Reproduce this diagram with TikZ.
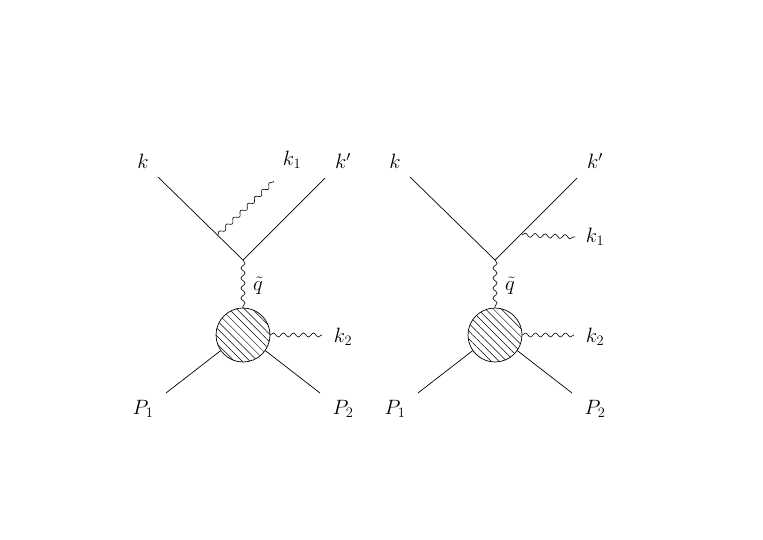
\documentclass[tikz,border=0pt]{standalone}
\usetikzlibrary{decorations.pathmorphing,patterns.meta}
\begin{document}
\begin{tikzpicture}[x=1pt,y=-1pt,
  fermion/.style={line width=0.7pt},
  photon/.style={line width=0.6pt,decorate,decoration={snake,amplitude=2pt,segment length=10pt}},
  blob/.style={circle,draw,line width=0.7pt,minimum size=54pt,inner sep=0pt,
    pattern={Lines[angle=-45,distance=5.5pt,line width=0.5pt]}},
  lab/.style={font=\fontsize{21}{24}\selectfont}]
\useasboundingbox (0,0) rectangle (763,539);
\foreach \d/\n in {0/L,252/R}{
  \coordinate (v\n) at (243+\d,260);
  \coordinate (ka\n) at (158+\d,177);
  \coordinate (kb\n) at (325+\d,178);
  \node[blob] (b\n) at (243+\d,335) {};
  \coordinate (p1\n) at (166+\d,393);
  \coordinate (p2\n) at (320+\d,393);
  \coordinate (k2\n) at (322+\d,335);
  \draw[fermion] (ka\n) -- (v\n) -- (kb\n);
  \draw[photon] (v\n) -- (b\n.north);
  \draw[fermion] (p1\n) -- (b\n.-145);
  \draw[fermion] (p2\n) -- (b\n.-35);
  \draw[photon] (b\n.east) -- (k2\n);
  \node[lab] (lk\n) at (143+\d,161) {$k$};
  \node[lab] (lkp\n) at (343+\d,161) {$k'$};
  \node[lab] (lq\n) at (258+\d,286) {$\tilde q$};
  \node[lab] (lk2\n) at (343+\d,337) {$k_2$};
  \node[lab] (lp1\n) at (143+\d,409) {$P_1$};
  \node[lab] (lp2\n) at (343+\d,409) {$P_2$};
}
\coordinate (aL) at (218,235);
\coordinate (eL) at (274,181);
\draw[photon] (aL) -- (eL);
\node[lab] (lk1L) at (292,160) {$k_1$};
\coordinate (aR) at (522,235);
\coordinate (eR) at (575,237);
\draw[photon] (aR) -- (eR);
\node[lab] (lk1R) at (595,237) {$k_1$};
\end{tikzpicture}
\end{document}
